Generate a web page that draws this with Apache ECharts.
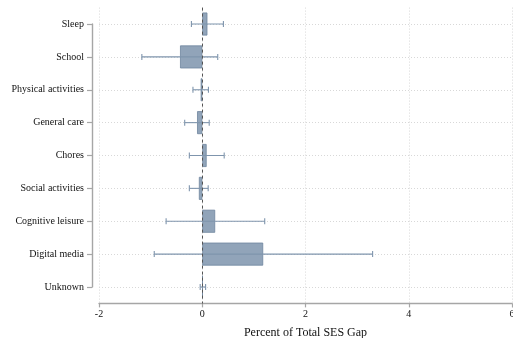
<!DOCTYPE html>
<html>
<head>
<meta charset="utf-8">
<style>
  html, body { margin: 0; padding: 0; background: #ffffff; }
  #chart { width: 513px; height: 338px; }
</style>
<script src="https://cdn.jsdelivr.net/npm/echarts@6/dist/echarts.min.js"></script>
</head>
<body>
<div id="chart"></div>
<script>
// Time-use categories and their share of the total SES gap (percent)
const categories = ['Sleep', 'School', 'Physical activities', 'General care', 'Chores',
  'Social activities', 'Cognitive leisure', 'Digital media', 'Unknown'];
const estimates = [0.10, -0.43, -0.03, -0.10, 0.085, -0.065, 0.25, 1.18, 0.01];
const ciLower = [-0.21, -1.17, -0.18, -0.34, -0.25, -0.25, -0.70, -0.93, -0.04];
const ciUpper = [0.41, 0.30, 0.12, 0.135, 0.425, 0.115, 1.21, 3.30, 0.065];
const xTicks = [-2, 0, 2, 4, 6];

const serif = '"Liberation Serif", "DejaVu Serif", serif';
const barFill = '#91a4b9';
const barEdge = '#6f859e';
const ciColor = '#7f95ad';
const axisGrey = '#a6a6a6';

const chart = echarts.init(document.getElementById('chart'));

const ciData = categories.map((c, i) => [i, ciLower[i], ciUpper[i]]);

chart.setOption({
  animation: false,
  backgroundColor: '#ffffff',
  grid: [
    // band grid holding the bars
    { left: 99, right: 1, top: 7.6, bottom: 34.6, outerBoundsMode: 'none', containLabel: false },
    // point grid whose category ticks sit on the band centres
    { left: 99, right: 1, top: 24, bottom: 51, outerBoundsMode: 'none', containLabel: false }
  ],
  xAxis: [
    {
      gridIndex: 0, type: 'value', min: xTicks[0], max: xTicks[xTicks.length - 1], interval: 2,
      name: 'Percent of Total SES Gap', nameLocation: 'middle', nameGap: 23,
      nameTextStyle: { fontFamily: serif, fontSize: 12, color: '#111' },
      axisLine: { show: true, onZero: false, lineStyle: { color: axisGrey, width: 1.4 } },
      axisTick: { show: true, length: 4, lineStyle: { color: axisGrey, width: 1.2 } },
      axisLabel: { fontFamily: serif, fontSize: 10, color: '#111', margin: 6 },
      splitLine: { show: true, lineStyle: { color: '#d8d8d8', type: [1, 2] } }
    },
    {
      gridIndex: 1, type: 'value', min: xTicks[0], max: xTicks[xTicks.length - 1], interval: 2,
      show: false, splitLine: { show: false }
    }
  ],
  yAxis: [
    {
      gridIndex: 0, type: 'category', data: categories, inverse: true,
      show: false, splitLine: { show: false }
    },
    {
      gridIndex: 1, type: 'category', data: categories, inverse: true, boundaryGap: false,
      offset: 7,
      axisLine: { show: true, onZero: false, lineStyle: { color: axisGrey, width: 1.4 } },
      axisTick: { show: true, length: 5, lineStyle: { color: axisGrey, width: 1.2 } },
      axisLabel: { fontFamily: serif, fontSize: 10, color: '#111', margin: 8 },
      splitLine: { show: true, lineStyle: { color: '#d8d8d8', type: [1, 2] } }
    }
  ],
  series: [
    {
      type: 'bar',
      xAxisIndex: 0, yAxisIndex: 0,
      data: estimates,
      barWidth: 23,
      itemStyle: { color: barFill, borderColor: barEdge, borderWidth: 0.8 },
      markLine: {
        silent: true, symbol: 'none', label: { show: false },
        lineStyle: { color: '#555', type: [3, 3], width: 1 },
        data: [{ xAxis: 0 }]
      },
      z: 2
    },
    {
      type: 'custom',
      xAxisIndex: 0, yAxisIndex: 0,
      data: ciData,
      encode: { y: 0, x: [1, 2] },
      renderItem: function (params, api) {
        const cat = api.value(0);
        const lo = api.coord([api.value(1), cat]);
        const hi = api.coord([api.value(2), cat]);
        const cap = 3;
        const style = { stroke: ciColor, lineWidth: 1.1, fill: null };
        return {
          type: 'group',
          children: [
            { type: 'line', shape: { x1: lo[0], y1: lo[1], x2: hi[0], y2: hi[1] }, style: style },
            { type: 'line', shape: { x1: lo[0], y1: lo[1] - cap, x2: lo[0], y2: lo[1] + cap }, style: style },
            { type: 'line', shape: { x1: hi[0], y1: hi[1] - cap, x2: hi[0], y2: hi[1] + cap }, style: style }
          ]
        };
      },
      z: 3
    }
  ]
});
</script>
</body>
</html>
